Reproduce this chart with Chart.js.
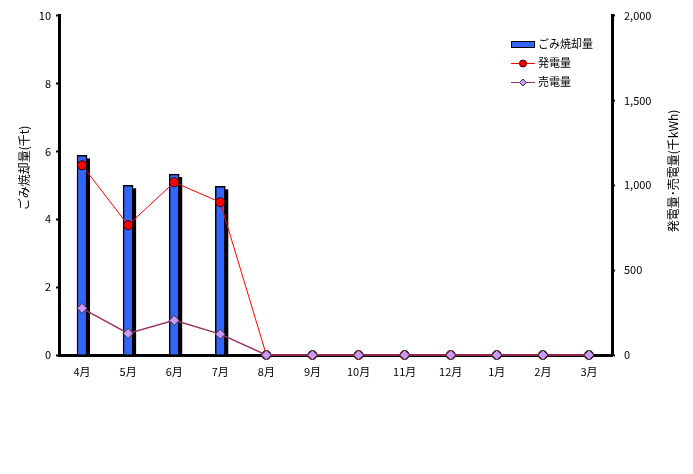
<!DOCTYPE html>
<html>
<head>
<meta charset="utf-8">
<script src="https://cdn.jsdelivr.net/npm/chart.js@4"></script>
<style>
  html, body { margin: 0; padding: 0; background: #fff; }
  #wrap { width: 693px; height: 474px; }
</style>
</head>
<body>
<div id="wrap"><canvas id="chart" width="693" height="474"></canvas></div>
<script>
// months
const months = ['4月', '5月', '6月', '7月', '8月', '9月', '10月', '11月', '12月', '1月', '2月', '3月'];
// ごみ焼却量 (千t)
const garbage = [5.88, 5.0, 5.33, 4.97, null, null, null, null, null, null, null, null];
// 発電量 (千kWh)
const generated = [1118, 765, 1018, 900, 0, 0, 0, 0, 0, 0, 0, 0];
// 売電量 (千kWh)
const sold = [275, 127, 204, 123, 0, 0, 0, 0, 0, 0, 0, 0];

const FONT = '"Noto Sans CJK JP", "Noto Sans", sans-serif';

// black drop shadow behind each bar, taken from the bar elements
const barShadow = {
    id: 'barShadow',
    beforeDatasetDraw(chart, args) {
        if (args.index !== 0) return;
        const ctx = chart.ctx;
        ctx.save();
        ctx.fillStyle = '#000';
        args.meta.data.forEach((bar, i) => {
            if (garbage[i] == null) return;
            const { x, y, base, width } = bar.getProps(['x', 'y', 'base', 'width'], true);
            ctx.fillRect(x - width / 2 + 3, y + 3, width, base - y - 3);
        });
        ctx.restore();
    }
};

// axis titles + legend box drawn by hand
const extras = {
    id: 'extras',
    afterDraw(chart) {
        const ctx = chart.ctx;
        ctx.save();
        ctx.fillStyle = '#000';
        ctx.font = '12px ' + FONT;
        ctx.textAlign = 'center';
        ctx.textBaseline = 'middle';

        ctx.save();
        ctx.translate(24, 168);
        ctx.rotate(-Math.PI / 2);
        ctx.fillText('ごみ焼却量(千t)', 0, 0);
        ctx.restore();

        ctx.save();
        ctx.translate(673, 171);
        ctx.rotate(-Math.PI / 2);
        ctx.fillText('発電量･売電量(千kWh)', 0, 0);
        ctx.restore();

        // legend
        const lx = 511, rows = [44, 63, 82];
        ctx.textAlign = 'left';
        ctx.font = '11px ' + FONT;

        ctx.fillStyle = '#3366ff';
        ctx.strokeStyle = '#000';
        ctx.lineWidth = 1;
        ctx.fillRect(lx, rows[0] - 3, 24, 7);
        ctx.strokeRect(lx + 0.5, rows[0] - 2.5, 23, 6);

        ctx.strokeStyle = '#ff0000';
        ctx.beginPath();
        ctx.moveTo(lx, rows[1] + 0.5);
        ctx.lineTo(lx + 24, rows[1] + 0.5);
        ctx.stroke();
        ctx.fillStyle = '#ff0000';
        ctx.strokeStyle = '#330000';
        ctx.beginPath();
        ctx.arc(lx + 12, rows[1] + 0.5, 3.5, 0, Math.PI * 2);
        ctx.fill();
        ctx.stroke();

        ctx.strokeStyle = '#993366';
        ctx.beginPath();
        ctx.moveTo(lx, rows[2] + 0.5);
        ctx.lineTo(lx + 24, rows[2] + 0.5);
        ctx.stroke();
        ctx.fillStyle = '#cc99ff';
        ctx.strokeStyle = '#333';
        ctx.beginPath();
        ctx.moveTo(lx + 12, rows[2] - 3);
        ctx.lineTo(lx + 15.5, rows[2] + 0.5);
        ctx.lineTo(lx + 12, rows[2] + 4);
        ctx.lineTo(lx + 8.5, rows[2] + 0.5);
        ctx.closePath();
        ctx.fill();
        ctx.stroke();

        ctx.fillStyle = '#000';
        ctx.fillText('ごみ焼却量', lx + 27, rows[0]);
        ctx.fillText('発電量', lx + 27, rows[1]);
        ctx.fillText('売電量', lx + 27, rows[2]);
        ctx.restore();
    }
};

new Chart(document.getElementById('chart'), {
    type: 'bar',
    data: {
        labels: months,
        datasets: [
            {
                type: 'bar',
                label: 'ごみ焼却量',
                data: garbage,
                yAxisID: 'y',
                backgroundColor: '#3366ff',
                borderColor: '#000',
                borderWidth: 1.5,
                barThickness: 10,
                order: 2
            },
            {
                type: 'line',
                label: '発電量',
                data: generated,
                yAxisID: 'y1',
                borderColor: '#ff0000',
                borderWidth: 1,
                pointBackgroundColor: '#ff0000',
                pointBorderColor: '#330000',
                pointBorderWidth: 1,
                pointRadius: 4.5,
                pointStyle: 'circle',
                tension: 0,
                clip: false,
                order: 1
            },
            {
                type: 'line',
                label: '売電量',
                data: sold,
                yAxisID: 'y1',
                borderColor: '#993366',
                borderWidth: 1.5,
                pointBackgroundColor: '#cc99ff',
                pointBorderColor: '#333',
                pointBorderWidth: 1,
                pointRadius: 5,
                pointStyle: 'rectRot',
                tension: 0,
                clip: false,
                order: 0
            }
        ]
    },
    options: {
        responsive: false,
        animation: false,
        layout: { padding: { top: 15, left: 0, right: 0, bottom: 0 } },
        plugins: {
            legend: { display: false },
            tooltip: { enabled: false }
        },
        scales: {
            x: {
                grid: { display: false, drawTicks: false },
                border: { color: '#000', width: 3 },
                ticks: { color: '#000', font: { family: FONT, size: 11 }, padding: 10, maxRotation: 0, autoSkip: false },
                afterFit(scale) { scale.height = 119; }
            },
            y: {
                position: 'left',
                min: 0, max: 10,
                grid: { drawOnChartArea: false, tickLength: 3, color: '#000', tickWidth: 2 },
                border: { color: '#000', width: 3 },
                ticks: { stepSize: 2, color: '#000', font: { family: FONT, size: 11 }, padding: 5 },
                afterFit(scale) { scale.width = 59; }
            },
            y1: {
                position: 'right',
                min: 0, max: 2000,
                grid: { drawOnChartArea: false, tickLength: 3, color: '#000', tickWidth: 2 },
                border: { color: '#000', width: 3 },
                ticks: {
                    stepSize: 500, color: '#000', font: { family: FONT, size: 11 }, padding: 9,
                    callback: v => Number(v).toLocaleString('en-US')
                },
                afterFit(scale) { scale.width = 81; }
            }
        }
    },
    plugins: [barShadow, extras]
});
</script>
</body>
</html>
